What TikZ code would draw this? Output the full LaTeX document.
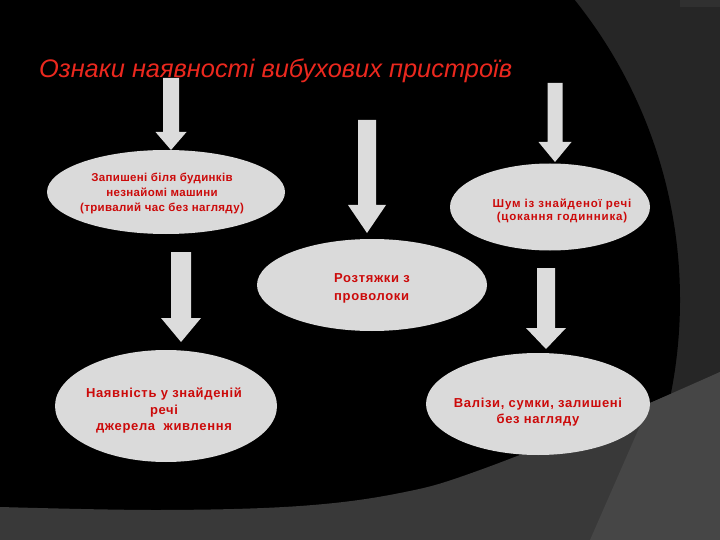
\documentclass[tikz,border=0pt]{standalone}
\usepackage{fontspec}
\setmainfont{Liberation Sans}
\usetikzlibrary{shapes.geometric}
\definecolor{ellc}{RGB}{218,218,218}
\definecolor{arrc}{RGB}{220,220,220}
\definecolor{txtc}{RGB}{204,10,10}
\definecolor{ttlc}{RGB}{235,40,30}
\definecolor{bgA}{RGB}{38,38,38}
\definecolor{bgB}{RGB}{57,57,57}
\definecolor{bgC}{RGB}{70,70,70}
\definecolor{bgD}{RGB}{48,48,48}
\newcommand\bArrow[6]{%
  \fill[arrc] (#1-#4,#2) -- (#1+#4,#2) -- (#1+#4,#3-#6) -- (#1+#5,#3-#6) -- (#1,#3)
    -- (#1-#5,#3-#6) -- (#1-#4,#3-#6) -- cycle;}
\tikzset{
  oval/.style={ellipse, fill=ellc, inner sep=0pt},
  ovaltext/.style={text=txtc, align=center, inner sep=0pt},
}
\begin{document}
\begin{tikzpicture}[x=1pt,y=-1pt]
\useasboundingbox (0,0) rectangle (720,540);
\clip (0,0) rectangle (720,540);
% background
\fill[bgA] (0,0) rectangle (720,540);
\fill[bgD] (680,0) rectangle (720,7);
\fill[black] (200,300) circle[radius=480pt];
\fill[bgB] plot[smooth, tension=0.6] coordinates {(0,507) (160,510) (300,506) (400,493) (480,470) (650,403) (720,372)}
  -- (720,540) -- (0,540) -- cycle;
\fill[bgC] (650,403) -- (720,372) -- (720,540) -- (590,540) -- cycle;
% title
\node[text=ttlc, font=\itshape\fontsize{25.4}{30}\selectfont, anchor=base west, inner sep=0pt] (title) at (39,78) {Ознаки наявності вибухових пристроїв};
% arrows
\bArrow{171}{78}{150}{8}{15.5}{18}
\bArrow{367}{120}{233}{9}{19}{28}
\bArrow{181}{252}{342}{10}{20}{24}
\bArrow{555}{83}{162}{7.5}{16.5}{20}
\bArrow{546}{268}{349}{9}{20}{21}
% ellipses
\node[oval, minimum width=238pt, minimum height=84pt] (e1) at (166,192) {};
\node[oval, minimum width=200pt, minimum height=87pt] (e2) at (550,207) {};
\node[oval, minimum width=230pt, minimum height=92pt] (e3) at (372,285) {};
\node[oval, minimum width=222pt, minimum height=112pt] (e4) at (166,406) {};
\node[oval, minimum width=224pt, minimum height=102pt] (e5) at (538,404) {};
% texts
\node[ovaltext, font=\bfseries\fontsize{11.5}{15}\selectfont\addfontfeature{LetterSpace=3}] (t1) at ([xshift=-4pt,yshift=-1pt]e1.center)
  {Запишені біля будинків\\незнайомі машини\\(тривалий час без нагляду)};
\node[ovaltext, font=\bfseries\fontsize{11.5}{13.5}\selectfont\addfontfeature{LetterSpace=7}] (t2) at ([xshift=12pt,yshift=-4pt]e2.center)
  {Шум із знайденої речі\\(цокання годинника)};
\node[ovaltext, align=left, font=\bfseries\fontsize{13}{18}\selectfont\addfontfeature{LetterSpace=5}] (t3) at ([yshift=-3pt]e3.center)
  {Розтяжки з\\проволоки};
\node[ovaltext, font=\bfseries\fontsize{13}{16.5}\selectfont\addfontfeature{LetterSpace=5}] (t4) at ([xshift=-2pt,yshift=-5pt]e4.center)
  {Наявність у знайденій\\речі\\джерела \ живлення};
\node[ovaltext, font=\bfseries\fontsize{13}{16.5}\selectfont\addfontfeature{LetterSpace=5}] (t5) at ([yshift=-8pt]e5.center)
  {Валізи, сумки, залишені\\без нагляду};
\end{tikzpicture}
\end{document}
